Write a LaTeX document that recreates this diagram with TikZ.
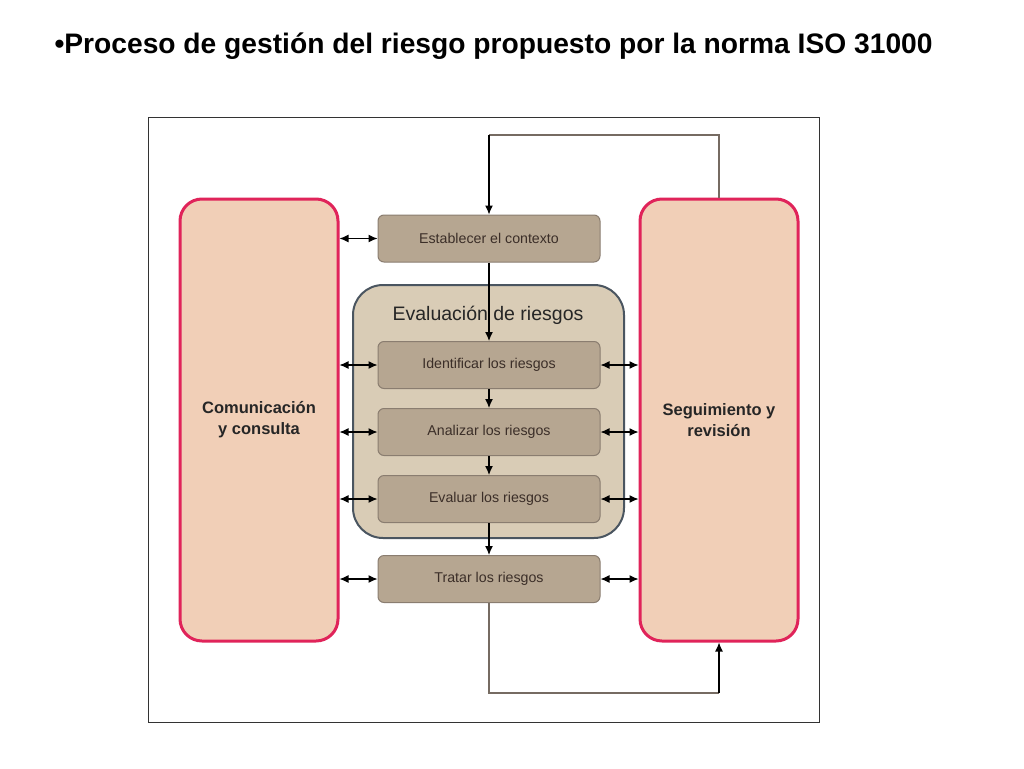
\documentclass[tikz,border=0pt]{standalone}
\usepackage{fontspec}
\setmainfont{Liberation Sans}
\usetikzlibrary{arrows.meta,calc}
\definecolor{sideFill}{HTML}{F1CFB7}
\definecolor{sideLine}{HTML}{E0245A}
\definecolor{stepFill}{HTML}{B6A691}
\definecolor{stepLine}{HTML}{8A7D70}
\definecolor{evalFill}{HTML}{D9CCB6}
\definecolor{evalLine}{HTML}{4A5560}
\definecolor{stepText}{HTML}{3B2E28}
\definecolor{loopLine}{HTML}{766B62}
\tikzset{
  sidebox/.style={draw=sideLine, fill=sideFill, line width=3pt, rounded corners=22pt,
    minimum width=158pt, minimum height=442pt, inner sep=0pt, align=center,
    font=\fontsize{16.5}{21}\selectfont\bfseries, text=black!85},
  stepbox/.style={draw=stepLine, fill=stepFill, line width=1pt, rounded corners=6pt,
    minimum width=222pt, minimum height=47pt, inner sep=0pt,
    font=\fontsize{14.2}{16}\selectfont, text=stepText},
  evalbox/.style={draw=evalLine, fill=evalFill, line width=2pt, rounded corners=30pt,
    minimum width=271pt, minimum height=253pt, inner sep=0pt},
  flow/.style={line width=1.2pt, black, -{Latex[length=9pt,width=8pt]}},
  link/.style={line width=1.2pt, black, {Latex[length=9pt,width=8pt]}-{Latex[length=9pt,width=8pt]}},
  loop/.style={line width=1.3pt, loopLine},
}
\begin{document}
\begin{tikzpicture}[x=1pt,y=-1pt]
\useasboundingbox[fill=white] (0,0) rectangle (1024,768);
\node[anchor=west, font=\fontsize{28.2}{32}\selectfont\bfseries] (title) at (51,46) {•Proceso de gestión del riesgo propuesto por la norma ISO 31000};
\node[draw=black!80, line width=0.8pt, minimum width=671pt, minimum height=605pt, inner sep=0pt] (frame) at (483.5,419.5) {};
\node[evalbox] (ev) at (488.5,411.5) {};
\node[font=\fontsize{19.5}{22}\selectfont, text=black!85] (evt) at (488,315) {Evaluación de riesgos};
\node[sidebox] (L) at (259,420) {Comunicación\\y consulta};
\node[sidebox] (R) at (719,420) {Seguimiento y\\revisión};
\node[stepbox] (e) at (489,238.5) {Establecer el contexto};
\node[stepbox] (i) at (489,365) {Identificar los riesgos};
\node[stepbox] (a) at (489,432) {Analizar los riesgos};
\node[stepbox] (v) at (489,499) {Evaluar los riesgos};
\node[stepbox] (t) at (489,579) {Tratar los riesgos};
\coordinate (topy) at (0,135);
\coordinate (boty) at (0,693);
% loops
\draw[loop] (R.north) -- (R.north |- topy) -- (e.north |- topy);
\draw[flow] (e.north |- topy) -- (e.north);
\draw[loop] (t.south) -- (t.south |- boty) -- (R.south |- boty);
\draw[flow] (R.south |- boty) -- (R.south);
% vertical flow
\draw[flow] (e) -- (i);
\draw[flow] (i) -- (a);
\draw[flow] (a) -- (v);
\draw[flow] (v) -- (t);
% side links
\foreach \n in {e,i,a,v,t} {
  \draw[link] (L.east |- \n.west) -- (\n.west);
}
\foreach \n in {i,a,v,t} {
  \draw[link] (\n.east) -- (R.west |- \n.east);
}
\end{tikzpicture}
\end{document}
